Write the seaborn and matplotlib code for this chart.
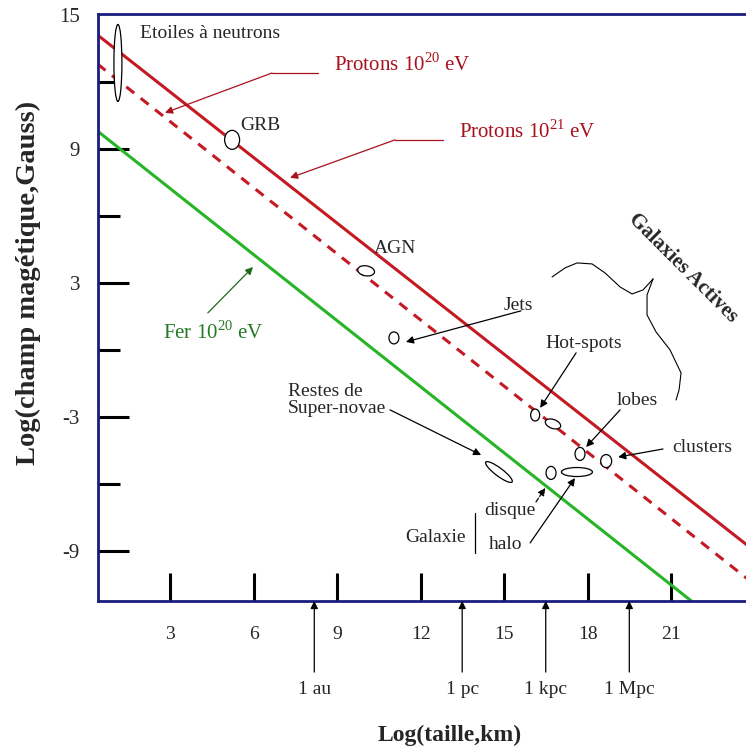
import numpy as np
import pandas as pd
import matplotlib
matplotlib.use("Agg")
import matplotlib.pyplot as plt
import matplotlib.transforms as mtransforms
from matplotlib.patches import Ellipse
import seaborn as sns

# Hillas lines, end points (log size in km, log B in Gauss)
line_x = [0.4, 23.7]
p21_y = [14.1, -8.7]      # solid red, protons 1e21 eV
p20_y = [12.8, -10.2]     # dashed red, protons 1e20 eV
fe_x = [0.4, 21.8]
fe_y = [9.8, -11.3]       # green, iron 1e20 eV

# sources (ellipses)
src_names = ["neutron stars", "GRB", "AGN", "Jets", "Hot-spots", "Hot-spots 2",
             "lobes", "clusters", "disque", "halo", "SNR"]
src_x = [1.13, 5.23, 10.04, 11.04, 16.11, 16.75, 17.72, 18.66, 16.68, 17.61, 14.81]
src_y = [12.85, 9.41, 3.55, 0.55, -2.90, -3.30, -4.64, -4.96, -5.49, -5.45, -5.45]
# ellipse shapes in pixels: width, height, angle
src_w = [8, 15, 17, 10, 9, 16, 10, 11, 10, 31, 33]
src_h = [77, 19, 10, 12, 12, 9, 13, 13, 13, 9, 8]
src_a = [0, 0, -10, 0, 0, -20, 0, 0, 0, 0, -37]

# distance units on the x axis
unit_names = ["1 au", "1 pc", "1 kpc", "1 Mpc"]
unit_x = [8.18, 13.49, 16.49, 19.49]

x_ticks = [3, 6, 9, 12, 15, 18, 21]
y_major = [15, 9, 3, -3, -9]
y_minor = [12, 6, 0, -6]

sns.set_theme(style="white")
plt.rcParams["font.family"] = ["Liberation Serif", "DejaVu Serif"]
plt.rcParams["mathtext.fontset"] = "custom"
plt.rcParams["mathtext.rm"] = "Liberation Serif"
plt.rcParams["axes.unicode_minus"] = False

red_line = "#c41a24"
red_txt = "#a8101c"
green_line = "#26b526"
green_txt = "#227a22"
navy = "#1c1c80"

fig = plt.figure(figsize=(7.46, 7.51), dpi=100)
ax = fig.add_axes([98 / 746, 150 / 751, 648 / 746, 587 / 751])

lines = pd.DataFrame({"x": line_x, "p21": p21_y, "p20": p20_y})
sns.lineplot(data=lines, x="x", y="p21", ax=ax, color=red_line, lw=2.2)
sns.lineplot(data=lines, x="x", y="p20", ax=ax, color=red_line, lw=2.2,
             linestyle=(0, (3.3, 2.7)))
sns.lineplot(x=fe_x, y=fe_y, ax=ax, color=green_line, lw=2.2)

ax.set_xlim(0.415, 23.68)
ax.set_ylim(-11.22, 15.04)


def blob(x, y, w, h, ang):
    tr = fig.dpi_scale_trans + mtransforms.ScaledTranslation(x, y, ax.transData)
    ax.add_patch(Ellipse((0, 0), w / 100, h / 100, angle=ang, transform=tr,
                         fc="white", ec="black", lw=0.9, zorder=5))


for x, y, w, h, a in zip(src_x, src_y, src_w, src_h, src_a):
    blob(x, y, w, h, a)

# axes styling
for side in ["top", "left", "bottom"]:
    ax.spines[side].set_color(navy)
    ax.spines[side].set_linewidth(2)
ax.spines["right"].set_visible(False)
ax.set_xticks(x_ticks)
ax.set_yticks(y_major)
ax.set_yticks(y_minor, minor=True)
ax.tick_params(axis="x", direction="in", length=20, width=2.2, color="black",
               pad=18, labelsize=14, bottom=True)
ax.tick_params(axis="y", which="major", direction="in", length=22, width=2.2,
               color="black", pad=13, labelsize=15, left=True)
ax.tick_params(axis="y", which="minor", direction="in", length=16, width=2.2,
               color="black", left=True)
# the 15 tick sits under the top spine: keep only its label
ax.yaxis.get_major_ticks()[0].tick1line.set_visible(False)
ax.set_xlabel("")
ax.set_ylabel("")
fig.text(0.603, 0.021, "Log(taille,km)", ha="center", va="center",
         fontsize=17, fontweight="bold")
fig.text(0.038, 0.623, "Log(champ magétique,Gauss)", ha="center", va="center",
         rotation=90, fontsize=20.5, fontweight="bold")

black_arrow = dict(arrowstyle="-|>", color="black", lw=0.9, mutation_scale=11,
                   shrinkA=0, shrinkB=0)

ax.text(1.92, 14.19, "Etoiles à neutrons", fontsize=14, ha="left", va="center")
ax.text(6.23, 10.03, "GRB", fontsize=14, ha="center", va="center")
ax.text(11.08, 4.57, "AGN", fontsize=14, ha="center", va="center")

# proton labels with leaders
ax.text(8.89, 12.76, r"Protons 10$^{\mathrm{20}}$ eV", fontsize=15, color=red_txt,
        ha="left", va="center")
ax.plot([8.31, 6.66], [12.40, 12.40], color=red_txt, lw=0.9)
ax.annotate("", xy=(2.82, 10.62), xytext=(6.66, 12.40),
            arrowprops=dict(black_arrow, color=red_txt))
ax.text(13.37, 9.77, r"Protons 10$^{\mathrm{21}}$ eV", fontsize=15, color=red_txt,
        ha="left", va="center")
ax.plot([12.80, 11.08], [9.41, 9.41], color=red_txt, lw=0.9)
ax.annotate("", xy=(7.31, 7.71), xytext=(11.08, 9.41),
            arrowprops=dict(black_arrow, color=red_txt))

ax.text(2.75, 0.77, r"Fer 10$^{\mathrm{20}}$ eV", fontsize=15, color=green_txt,
        ha="left", va="center")
ax.annotate("", xy=(5.98, 3.72), xytext=(4.36, 1.67),
            arrowprops=dict(black_arrow, color="#1a6a1a"))

ax.text(21.42, 3.68, "Galaxies Actives", fontsize=15, fontweight="bold",
        rotation=-45, ha="center", va="center")

# curly bracket near "Galaxies Actives" (pixel points)
brace1 = [(552, 277), (565, 268), (577, 263), (592, 264), (605, 273), (620, 287),
          (632, 294), (643, 290), (653, 279)]
brace2 = [(653, 279), (647, 295), (647, 315), (656, 332), (670, 350), (681, 373),
          (679, 390), (676, 400)]
for br in (brace1, brace2):
    bx = [3 + (p[0] - 170) / 27.85 for p in br]
    by = [15 - (p[1] - 15) / 22.35 for p in br]
    ax.plot(bx, by, color="black", lw=0.8)

ax.text(15.50, 1.98, "Jets", fontsize=14, ha="center", va="center")
ax.annotate("", xy=(11.47, 0.37), xytext=(15.6, 1.76), arrowprops=black_arrow)
ax.text(17.87, 0.32, "Hot-spots", fontsize=14, ha="center", va="center")
ax.annotate("", xy=(16.29, -2.58), xytext=(17.58, -0.12), arrowprops=black_arrow)
ax.text(19.77, -2.23, "lobes", fontsize=14, ha="center", va="center")
ax.annotate("", xy=(17.94, -4.33), xytext=(19.16, -2.67), arrowprops=black_arrow)
ax.text(22.10, -4.37, "clusters", fontsize=14, ha="center", va="center")
ax.annotate("", xy=(19.09, -4.78), xytext=(20.70, -4.42), arrowprops=black_arrow)
ax.text(7.24, -2.23, "Restes de\nSuper-novae", fontsize=14, ha="left",
        va="center", linespacing=1.0)
ax.annotate("", xy=(14.17, -4.69), xytext=(10.90, -2.67), arrowprops=black_arrow)
ax.text(15.21, -7.19, "disque", fontsize=14, ha="center", va="center")
ax.annotate("", xy=(16.47, -6.16), xytext=(16.14, -6.79),
            arrowprops=dict(black_arrow, linestyle="--"))
ax.text(15.06, -8.71, "halo", fontsize=14, ha="center", va="center")
ax.annotate("", xy=(17.54, -5.72), xytext=(15.93, -8.62), arrowprops=black_arrow)
ax.text(12.52, -8.36, "Galaxie", fontsize=14, ha="center", va="center")
ax.plot([13.95, 13.95], [-7.28, -9.07], color="black", lw=0.9)

# distance units below the axis
for name, ux in zip(unit_names, unit_x):
    ax.annotate("", xy=(ux, -11.22), xytext=(ux, -14.40), arrowprops=black_arrow,
                annotation_clip=False)
    ax.text(ux, -15.2, name, fontsize=14, ha="center", va="center", clip_on=False)

fig.savefig("out.png", dpi=100)
